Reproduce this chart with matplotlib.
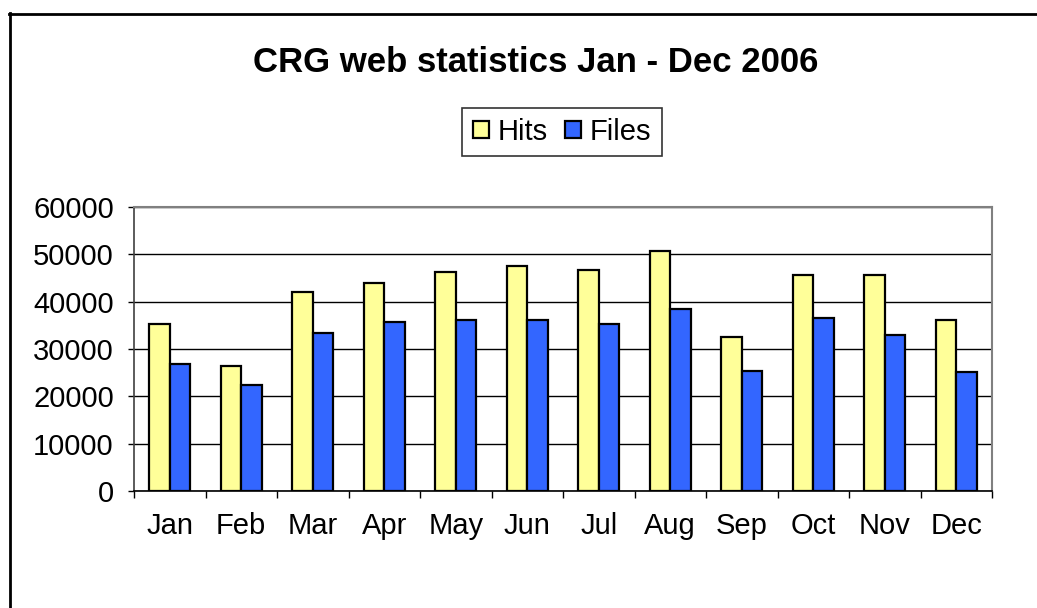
import numpy as np
import matplotlib
matplotlib.use("Agg")
import matplotlib.pyplot as plt
from matplotlib.lines import Line2D
from matplotlib.ticker import FixedLocator, NullFormatter

# --- Data ---
months = ["Jan", "Feb", "Mar", "Apr", "May", "Jun",
          "Jul", "Aug", "Sep", "Oct", "Nov", "Dec"]
hits = [35200, 26500, 42000, 44000, 46200, 47500,
        46600, 50800, 32500, 45600, 45600, 36100]
files = [26800, 22500, 33300, 35600, 36100, 36100,
         35200, 38400, 25400, 36600, 32900, 25100]
yticks = [0, 10000, 20000, 30000, 40000, 50000, 60000]

HITS_COLOR = "#FFFF99"
FILES_COLOR = "#3366FF"

plt.rcParams["font.family"] = ["Liberation Sans", "DejaVu Sans"]

W, H = 1037, 608
fig = plt.figure(figsize=(W / 100, H / 100), dpi=100)
fig.patch.set_facecolor("white")

# plot area in pixel coords
left, right, top, bottom = 134, 992, 207, 491
ax = fig.add_axes([left / W, 1 - bottom / H, (right - left) / W, (bottom - top) / H])

x = np.arange(len(months))
bw = 1 / 3.5  # Excel gap width 150%
ax.bar(x - bw / 2, hits, width=bw, color=HITS_COLOR, edgecolor="black",
       linewidth=1.6, label="Hits", zorder=3)
ax.bar(x + bw / 2, files, width=bw, color=FILES_COLOR, edgecolor="black",
       linewidth=1.6, label="Files", zorder=3)

ax.set_xlim(-0.5, len(months) - 0.5)
ax.set_ylim(0, 60000)

# y axis
ax.set_yticks(yticks)
ax.set_yticklabels([str(v) for v in yticks], fontsize=21)
ax.tick_params(axis="y", direction="out", length=4.5, width=1, pad=10, color="black")
ax.yaxis.grid(True, color="black", linewidth=1, zorder=0)

# x axis: labels at centres, tick marks between categories
ax.set_xticks(x)
ax.set_xticklabels(months, fontsize=21)
ax.tick_params(axis="x", which="major", length=0, pad=15)
ax.xaxis.set_minor_locator(FixedLocator(np.arange(-0.5, len(months), 1)))
ax.xaxis.set_minor_formatter(NullFormatter())
ax.tick_params(axis="x", which="minor", direction="out", length=5, width=1, color="black")

for side in ["top", "right"]:
    ax.spines[side].set_color("#808080")
    ax.spines[side].set_linewidth(1.5)
ax.spines["left"].set_color("#404040")
ax.spines["left"].set_linewidth(1.2)
ax.spines["bottom"].set_color("black")
ax.spines["bottom"].set_linewidth(1.2)

# title
fig.text(535.5 / W, 1 - 72 / H, "CRG web statistics Jan - Dec 2006",
         fontsize=25, fontweight="bold", ha="center", va="baseline")

# legend
leg = fig.legend(loc="center", bbox_to_anchor=(562 / W, 1 - 132 / H), ncol=2,
                 fontsize=21, frameon=True, fancybox=False, edgecolor="black",
                 handlelength=0.55, handleheight=0.55, handletextpad=0.3,
                 columnspacing=0.6, borderpad=0.35, borderaxespad=0)
leg.get_frame().set_linewidth(1.2)

# outer chart frame (only top and left visible in the crop)
fig.add_artist(Line2D([9.5 / W, 9.5 / W], [0, 1 - 13 / H], transform=fig.transFigure,
                      color="black", linewidth=2))
fig.add_artist(Line2D([9 / W, 1], [1 - 13.5 / H, 1 - 13.5 / H], transform=fig.transFigure,
                      color="black", linewidth=2))

fig.savefig("out.png", dpi=100)
